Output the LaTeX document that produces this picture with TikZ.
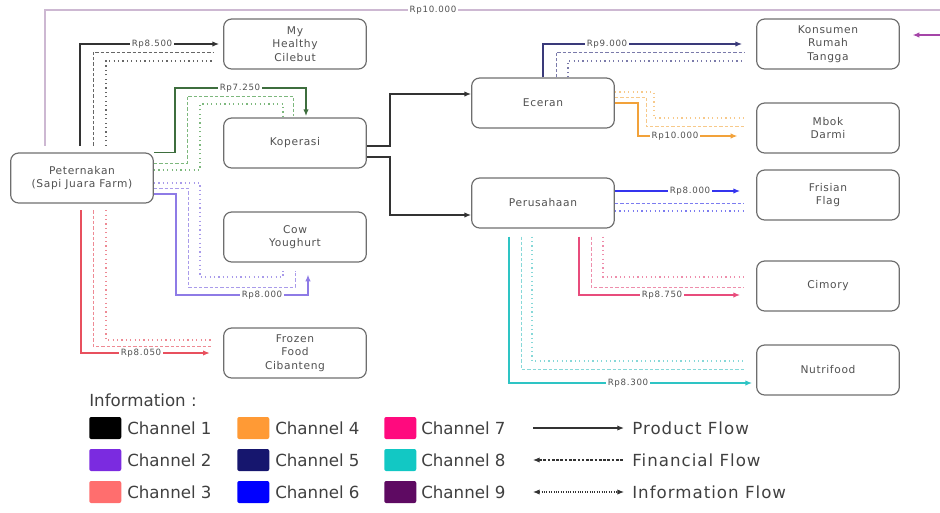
\documentclass[tikz,border=0pt]{standalone}
\usepackage{fontspec}
\setmainfont{DejaVu Sans}
\newfontfamily\nodefont[LetterSpace=6]{DejaVu Sans}
\newfontfamily\lblfont[LetterSpace=8]{DejaVu Sans}
\newfontfamily\flowfont[LetterSpace=6]{DejaVu Sans}
\usetikzlibrary{arrows.meta}
\definecolor{boxgray}{HTML}{6E6E6E}
\definecolor{txtgray}{HTML}{505050}
\definecolor{leggray}{HTML}{404040}
\definecolor{cA}{HTML}{333333}
\definecolor{cAl}{HTML}{666666}
\definecolor{cG}{HTML}{3E6E3E}
\definecolor{cGl}{HTML}{7DB87D}
\definecolor{cP}{HTML}{8E7BE6}
\definecolor{cPl}{HTML}{A99BEA}
\definecolor{cR}{HTML}{E8505E}
\definecolor{cRl}{HTML}{EE8A94}
\definecolor{cN}{HTML}{3A3A7A}
\definecolor{cNl}{HTML}{7A7AAA}
\definecolor{cO}{HTML}{F2A23A}
\definecolor{cOl}{HTML}{F7C98A}
\definecolor{cB}{HTML}{3434EE}
\definecolor{cBl}{HTML}{7C7CF0}
\definecolor{cK}{HTML}{E84C7C}
\definecolor{cKl}{HTML}{EE8EAC}
\definecolor{cC}{HTML}{2EC4C4}
\definecolor{cCl}{HTML}{86D8D8}
\definecolor{cT}{HTML}{CDB8D2}
\definecolor{cTa}{HTML}{A545A8}
\definecolor{ch1}{HTML}{000000}
\definecolor{ch2}{HTML}{7B2BE0}
\definecolor{ch3}{HTML}{FF6E6E}
\definecolor{ch4}{HTML}{FF9A35}
\definecolor{ch5}{HTML}{16166E}
\definecolor{ch6}{HTML}{0000FF}
\definecolor{ch7}{HTML}{FF0A7E}
\definecolor{ch8}{HTML}{12C8C4}
\definecolor{ch9}{HTML}{5E0A62}
\begin{document}
\begin{tikzpicture}[x=0.75pt,y=-0.75pt,
 box/.style={draw=boxgray, line width=0.9pt, rounded corners=6pt, minimum width=107pt, minimum height=37.5pt, align=center, font=\nodefont\fontsize{8}{10}\selectfont, text=txtgray, inner sep=1pt},
 prod/.style={line width=0.9pt, -{Latex[length=5pt,width=4pt]}},
 fin/.style={line width=0.75pt, dash pattern=on 2.5pt off 1.5pt},
 info/.style={line width=0.9pt, dash pattern=on 0.9pt off 2.4pt},
 lbl/.style={fill=white, inner sep=1pt, font=\lblfont\fontsize{6.5}{7}\selectfont, text=txtgray},
 sw/.style={minimum width=24pt, minimum height=16.5pt, rounded corners=1.5pt, inner sep=0pt, anchor=west},
 leg/.style={anchor=west, font=\fontsize{12.5}{14}\selectfont, text=leggray, inner sep=0pt},
 flow/.style={anchor=west, font=\flowfont\fontsize{12.5}{14}\selectfont, text=leggray, inner sep=0pt},
]
\useasboundingbox (0,0) rectangle (940,512);

% nodes
\node[box] (pet)  at (82,178)  {Peternakan\\(Sapi Juara Farm)};
\node[box] (mhc)  at (295,44)  {My\\Healthy\\Cilebut};
\node[box] (kop)  at (295,143) {Koperasi};
\node[box] (cow)  at (295,237) {Cow\\Youghurt};
\node[box] (ff)   at (295,353) {Frozen\\Food\\Cibanteng};
\node[box] (ece)  at (543,103) {Eceran};
\node[box] (per)  at (543,203) {Perusahaan};
\node[box] (kon)  at (828,44)  {Konsumen\\Rumah\\Tangga};
\node[box] (mbok) at (828,128) {Mbok\\Darmi};
\node[box] (fris) at (828,195) {Frisian\\Flag};
\node[box] (cim)  at (828,286) {Cimory};
\node[box] (nut)  at (828,370) {Nutrifood};

% top line (channel 9)
\coordinate (redgeA) at (940,10);
\coordinate (redgeB) at (940,35);
\draw[cT, line width=1.1pt, shorten <=5pt] (pet.north -| 45,0) |- (redgeA);
\node[lbl] (l0) at (433,10) {Rp10.000};
\draw[cTa, line width=0.9pt, -{Latex[length=5pt,width=4pt]}, shorten >=9.5pt] (redgeB) -- (kon.east |- 0,35);

% Peternakan -> My Healthy Cilebut
\draw[cA, prod, shorten <=5pt, shorten >=3pt] (pet.north -| 80,0) |- (mhc.west |- 0,44);
\draw[cAl, fin, shorten <=5pt, shorten >=7pt] (pet.north -| 93,0) |- (mhc.west |- 0,52);
\draw[cAl, info, shorten <=5pt, shorten >=7pt] (pet.north -| 106,0) |- (mhc.west |- 0,61);
\node[lbl] (l1) at (152,44) {Rp8.500};

% Peternakan -> Koperasi
\draw[cG, prod, shorten >=1pt] (pet.north east) -| (175,88) -| (kop.north -| 306,0);
\draw[cGl, fin, shorten >=1pt] (pet.east |- 0,163) -| (187,96) -| (kop.north -| 293,0);
\draw[cGl, info, shorten >=1pt] (pet.east |- 0,170) -| (200,104) -| (kop.north -| 283,0);
\node[lbl] (l2) at (240,88) {Rp7.250};

% Peternakan -> Cow Youghurt
\draw[cP, prod, shorten >=9pt] (pet.east |- 0,194) -| (176,295) -| (cow.south -| 308,0);
\draw[cPl, fin, shorten >=6pt] (pet.east |- 0,188) -| (188,287) -| (cow.south -| 295,0);
\draw[cPl, info, shorten >=6pt] (pet.east |- 0,183) -| (200,277) -| (cow.south -| 283,0);
\node[lbl] (l3) at (262,295) {Rp8.000};

% Peternakan -> Frozen Food
\draw[cR, prod, shorten <=5pt, shorten >=10pt] (pet.south -| 81,0) |- (ff.west |- 0,353);
\draw[cRl, fin, shorten <=5pt, shorten >=8pt] (pet.south -| 93,0) |- (ff.west |- 0,346);
\draw[cRl, info, shorten <=5pt, shorten >=8pt] (pet.south -| 106,0) |- (ff.west |- 0,340);
\node[lbl] (l4) at (141,353) {Rp8.050};

% Koperasi -> Eceran / Perusahaan
\draw[cA, prod] (kop.east |- 0,146) -- (390,146) |- (ece.west |- 0,94);
\draw[cA, prod] (kop.east |- 0,157) -- (390,157) |- (per.west |- 0,215);

% Eceran -> Konsumen
\draw[cN, prod, shorten >=10.5pt] (ece.north -| 543,0) |- (kon.west |- 0,44);
\draw[cNl, fin, shorten >=9pt] (ece.north -| 556,0) |- (kon.west |- 0,52);
\draw[cNl, info, shorten >=9pt] (ece.north -| 568,0) |- (kon.west |- 0,61);
\node[lbl] (l5) at (607,44) {Rp9.000};

% Eceran -> Mbok Darmi
\draw[cO, prod, shorten >=14pt] (ece.east |- 0,103) -| (638,136) -- (mbok.west |- 0,136);
\draw[cOl, fin, shorten >=9pt] (ece.east |- 0,97) -| (646,126) -- (mbok.west |- 0,126);
\draw[cOl, info, shorten >=9pt] (ece.east |- 0,92) -| (654,118) -- (mbok.west |- 0,118);
\node[lbl] (l6) at (675,136) {Rp10.000};

% Perusahaan -> Frisian Flag
\draw[cB, prod, shorten >=12pt] (per.east |- 0,191) -- (fris.west |- 0,191);
\draw[cBl, fin, shorten >=9pt] (per.east |- 0,203) -- (fris.west |- 0,203);
\draw[cBl, info, shorten >=9pt] (per.east |- 0,211) -- (fris.west |- 0,211);
\node[lbl] (l7) at (690,191) {Rp8.000};

% Perusahaan -> Cimory
\draw[cK, prod, shorten <=6pt, shorten >=12pt] (per.south -| 579,0) |- (cim.west |- 0,295);
\draw[cKl, fin, shorten <=6pt, shorten >=9pt] (per.south -| 591,0) |- (cim.west |- 0,287);
\draw[cKl, info, shorten <=6pt, shorten >=9pt] (per.south -| 603,0) |- (cim.west |- 0,277);
\node[lbl] (l8) at (662,295) {Rp8.750};

% Perusahaan -> Nutrifood
\draw[cC, prod, shorten <=6pt, shorten >=3pt] (per.south -| 509,0) |- (nut.west |- 0,383);
\draw[cCl, fin, shorten <=6pt, shorten >=9pt] (per.south -| 521,0) |- (nut.west |- 0,369);
\draw[cCl, info, shorten <=6pt, shorten >=9pt] (per.south -| 532,0) |- (nut.west |- 0,361);
\node[lbl] (l9) at (628,383) {Rp8.300};

% legend
\node[leg] (info) at (89,400) {Information :};
\node[sw, fill=ch1] (s1) at (89,428) {};
\node[sw, fill=ch2] (s2) at (89,460) {};
\node[sw, fill=ch3] (s3) at (89,492) {};
\node[sw, fill=ch4] (s4) at (237,428) {};
\node[sw, fill=ch5] (s5) at (237,460) {};
\node[sw, fill=ch6] (s6) at (237,492) {};
\node[sw, fill=ch7] (s7) at (384,428) {};
\node[sw, fill=ch8] (s8) at (384,460) {};
\node[sw, fill=ch9] (s9) at (384,492) {};
\node[leg] (t1) at (127,428) {Channel 1};
\node[leg] (t2) at (127,460) {Channel 2};
\node[leg] (t3) at (127,492) {Channel 3};
\node[leg] (t4) at (275,428) {Channel 4};
\node[leg] (t5) at (275,460) {Channel 5};
\node[leg] (t6) at (275,492) {Channel 6};
\node[leg] (t7) at (421,428) {Channel 7};
\node[leg] (t8) at (421,460) {Channel 8};
\node[leg] (t9) at (421,492) {Channel 9};
\node[flow] (pf) at (632,428) {Product Flow};
\node[flow] (ff2) at (632,460) {Financial Flow};
\node[flow] (if) at (632,492) {Information Flow};
\coordinate (pf0) at (533,428);
\coordinate (ff0) at (533,460);
\coordinate (if0) at (533,492);
\draw[cA, line width=0.9pt, -{Latex[length=5pt,width=4pt]}, shorten >=6pt] (pf0) -- (pf.west);
\draw[cA, line width=0.8pt, dash pattern=on 2pt off 1.2pt, {Latex[length=5pt,width=4pt]}-, shorten >=6pt] (ff0) -- (ff2.west);
\draw[cA, line width=0.8pt, dash pattern=on 0.8pt off 1pt, {Latex[length=5pt,width=4pt]}-{Latex[length=5pt,width=4pt]}, shorten >=6pt] (if0) -- (if.west);
\end{tikzpicture}
\end{document}
